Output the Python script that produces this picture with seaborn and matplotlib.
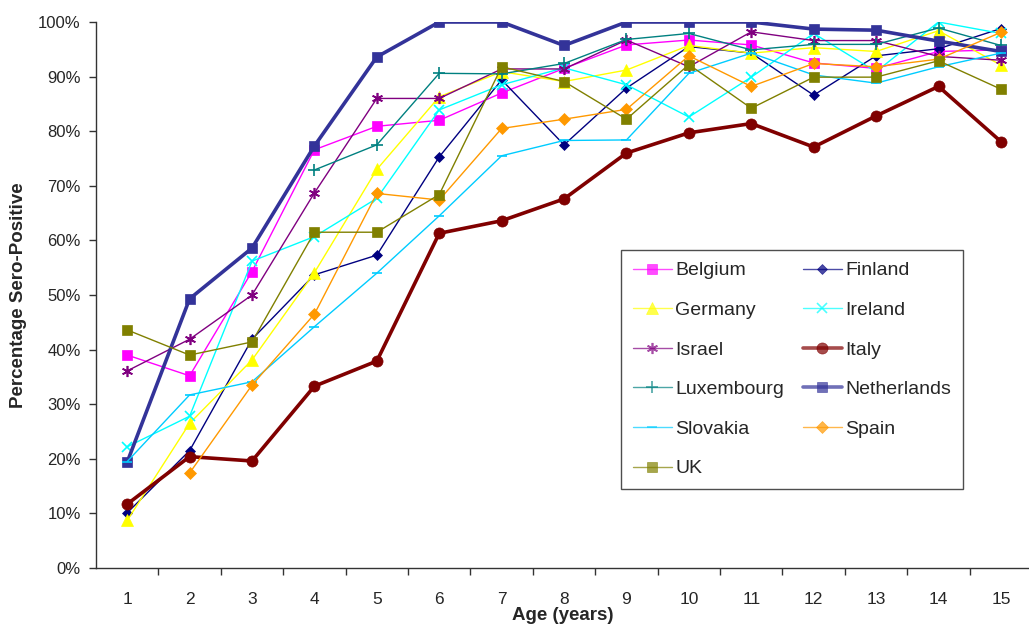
import numpy as np
import pandas as pd
import matplotlib
matplotlib.use("Agg")
import matplotlib.pyplot as plt
import seaborn as sns
from matplotlib.ticker import PercentFormatter, FixedLocator

ages = list(range(1, 16))
nan = np.nan
belgium     = [39.0, 35.2, 54.3, 76.6, 80.9, 82.0, 87.0, 91.5, 95.8, 96.7, 95.8, 92.5, 91.5, 94.6, 94.9]
finland     = [10.1, 21.5, 41.9, 53.7, 57.3, 75.3, 89.4, 77.5, 87.9, 95.5, 94.3, 86.6, 93.8, 95.1, 98.8]
germany     = [8.7, 26.5, 38.1, 54.1, 73.0, 86.3, 90.9, 89.1, 91.2, 95.7, 94.3, 95.3, 94.6, 98.4, 92.1]
ireland     = [22.2, 27.8, 56.2, 60.7, 67.7, 83.9, 88.5, 91.6, 88.5, 82.6, 89.9, 97.9, 90.9, 100.0, 97.9]
israel      = [36.1, 41.9, 50.0, 68.7, 86.0, 86.0, 91.4, 91.4, 96.7, 91.8, 98.2, 96.6, 96.6, 93.7, 93.0]
italy       = [11.7, 20.4, 19.6, 33.3, 37.9, 61.3, 63.6, 67.6, 76.0, 79.7, 81.4, 77.1, 82.8, 88.2, 78.1]
luxembourg  = [nan, nan, nan, 72.9, 77.5, 90.6, 90.5, 92.4, 96.8, 97.9, 94.9, 95.9, 95.9, 98.9, 95.7]
netherlands = [19.4, 49.3, 58.6, 77.3, 93.6, 100.0, 100.0, 95.7, 100.0, 100.0, 100.0, 98.7, 98.5, 96.5, 94.6]
slovakia    = [19.5, 31.7, 34.1, 44.2, 54.0, 64.5, 75.5, 78.3, 78.4, 90.6, 94.3, 90.3, 88.8, 91.8, 94.3]
spain       = [nan, 17.4, 33.5, 46.5, 68.6, 67.4, 80.5, 82.2, 84.0, 93.8, 88.2, 92.4, 91.8, 93.2, 98.1]
uk          = [43.6, 39.0, 41.4, 61.5, 61.5, 68.4, 91.8, 89.1, 82.2, 92.2, 84.2, 89.9, 89.9, 92.9, 87.7]

countries = ["Belgium", "Finland", "Germany", "Ireland", "Israel", "Italy",
             "Luxembourg", "Netherlands", "Slovakia", "Spain", "UK"]
series = [belgium, finland, germany, ireland, israel, italy,
          luxembourg, netherlands, slovakia, spain, uk]

styles = {
    "Belgium":     dict(color="#FF00FF", marker="s", ms=7, lw=1.0),
    "Finland":     dict(color="#000080", marker="D", ms=5, lw=1.0),
    "Germany":     dict(color="#FFFF00", marker="^", ms=8, lw=1.0),
    "Ireland":     dict(color="#00FFFF", marker="x", ms=7, lw=1.0),
    "Israel":      dict(color="#800080", marker=(6, 2, 0), ms=8, lw=1.0),
    "Italy":       dict(color="#800000", marker="o", ms=8, lw=2.6),
    "Luxembourg":  dict(color="#008080", marker="+", ms=8, lw=1.0),
    "Netherlands": dict(color="#333399", marker="s", ms=7, lw=2.6),
    "Slovakia":    dict(color="#00CCFF", marker="_", ms=7, lw=1.0),
    "Spain":       dict(color="#FF9900", marker="D", ms=6, lw=1.0),
    "UK":          dict(color="#808000", marker="s", ms=7, lw=1.0),
}

sns.set_style("white")
plt.rcParams["font.family"] = ["Liberation Sans", "DejaVu Sans"]

fig = plt.figure(figsize=(10.29, 6.25), dpi=100)
ax = fig.add_axes([96 / 1029, 1 - 568 / 625, 1 - 96 / 1029, (568 - 22) / 625])

for name, vals in zip(countries, series):
    st = styles[name]
    df = pd.DataFrame({"age": ages, "val": np.array(vals) / 100.0}).dropna()
    mew = 1.2 if st["marker"] in ("x", "+", "_", (6, 2, 0)) else 0.5
    sns.lineplot(data=df, x="age", y="val", ax=ax, color=st["color"],
                 linewidth=st["lw"], marker=st["marker"], markersize=st["ms"],
                 markeredgecolor=st["color"], markerfacecolor=st["color"],
                 markeredgewidth=mew, label=name, estimator=None)

ax.set_xlim(0.5, 15.45)
ax.set_ylim(0, 1.0)
ax.yaxis.set_major_locator(FixedLocator(np.arange(0, 1.01, 0.1)))
ax.yaxis.set_major_formatter(PercentFormatter(1.0, decimals=0))
ax.set_xticks(ages)
ax.set_xticklabels([str(a) for a in ages])
ax.set_xticks(np.arange(1.5, 15.0, 1.0), minor=True)
ax.tick_params(axis="x", which="major", length=0, pad=17, labelsize=12.5)
ax.tick_params(axis="x", which="minor", length=5, width=1, color="#333333", direction="out", bottom=True)
ax.tick_params(axis="y", which="major", length=5, width=1, color="#333333", direction="out", left=True, labelsize=12, pad=6)

for s in ["top", "right"]:
    ax.spines[s].set_visible(False)
for s in ["left", "bottom"]:
    ax.spines[s].set_color("#333333")
    ax.spines[s].set_linewidth(1.0)
ax.grid(False)

ax.set_xlabel("Age (years)", fontsize=13.5, fontweight="bold", labelpad=0)
ax.set_ylabel("Percentage Sero-Positive", fontsize=13.5, fontweight="bold", labelpad=8)

handles, labels = ax.get_legend_handles_labels()
order = [0, 2, 4, 6, 8, 10, 1, 3, 5, 7, 9]
leg = ax.legend([handles[i] for i in order], [labels[i] for i in order],
                ncol=2, loc="lower left",
                bbox_to_anchor=(525 / 933, (568 - 489) / 546, 342 / 933, 239 / 546),
                mode="expand", frameon=True, fancybox=False, fontsize=14,
                handlelength=2.0, handletextpad=0.2, labelspacing=1.13,
                borderpad=0.6, columnspacing=0.8, borderaxespad=0)
leg.get_frame().set_edgecolor("#222222")
leg.get_frame().set_linewidth(1.0)
for h in leg.legend_handles:
    h.set_alpha(0.7)

fig.savefig("out.png", dpi=100)
